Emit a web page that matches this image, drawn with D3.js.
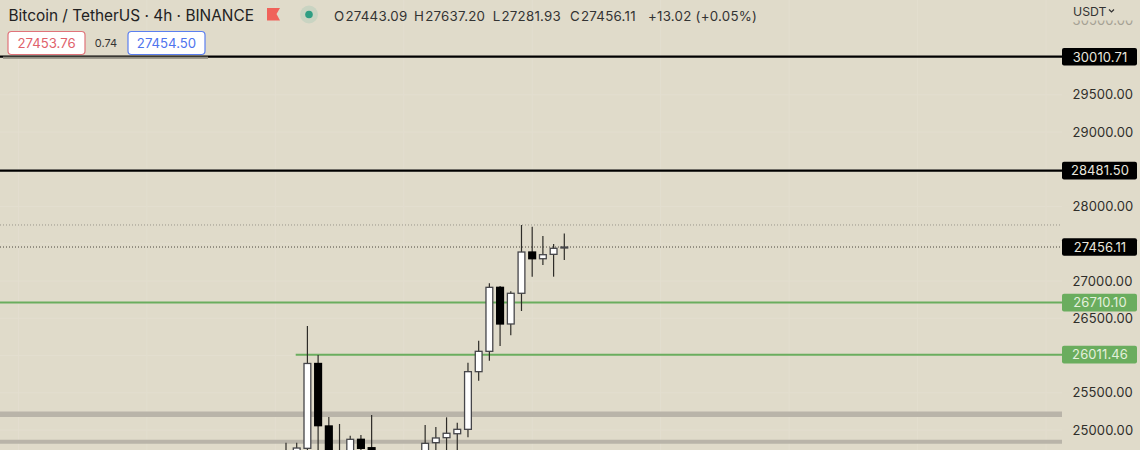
<!DOCTYPE html>
<html><head><meta charset="utf-8">
<script src="https://cdn.jsdelivr.net/npm/d3@7"></script>
<style>
html,body{margin:0;padding:0;background:#e0dbca;overflow:hidden}
svg{display:block}
text{font-family:Inter,"Noto Sans",sans-serif}
</style></head><body>
<svg id="c" width="1140" height="450"></svg>
<script>
// index of each 4h bar (0 = last bar), oldest first
const barIndex = [26,25,24,23,22,21,20,19,18,17,16,15,14,13,12,11,10,9,8,7,6,5,4,3,2,1,0];
const opens  = [24640,24600,24754,25893,25054,24660,24600,24875,24762,24600,24560,24620,24600,24640,24830,24897,24950,25009,25783,26056,26915,26423,26835,27389,27299,27358,27443];
const highs  = [24830,24830,26396,26007,25175,25081,24924,24933,25201,24660,24640,24660,24650,25067,25040,25170,25098,25903,26199,26969,26933,26862,27752,27729,27604,27497,27637];
const lows   = [24400,24450,24500,24600,24500,24500,24500,24600,24500,24500,24480,24500,24500,24500,24600,24600,24650,24902,25662,25930,26128,26271,26597,27058,27215,27058,27282];
const closes = [24560,24758,25893,25058,24680,24620,24875,24754,24650,24560,24620,24600,24640,24821,24893,24956,25009,25783,26056,26915,26423,26835,27389,27299,27353,27439,27456];
const axisTicks = [30500,29500,29000,28000,27000,26500,25500,25000];
const gridPrices = [30000,29500,29000,28500,28000,27500,27000,26500,26000,25500,25000];
const gridBars = [51,39,27,15,3,-9,-21,-33,-45];
const levelPrices = [30010.71,28481.50,26710.10,26011.46];
const levelLabels = ["30010.71","28481.50","26710.10","26011.46"];
const levelColors = ["#000000","#000000","#6aad5e","#6aad5e"];
const levelStartBars = [null,null,null,25];
const bandPrices = [25211,24843];
const bandWidths = [5.5,4];
const highLine = 27752;
const lastPrice = 27456.11;
const lastLabel = "27456.11";
const titleText = "Bitcoin / TetherUS · 4h · BINANCE";
const ohlcText = [["O","27443.09"],["H","27637.20"],["L","27281.93"],["C","27456.11"]];
const changeText = "+13.02 (+0.05%)";
const bidText="27453.76", spreadText="0.74", askText="27454.50";

const W=1140,H=450,plotR=1062;
const svg=d3.select("#c");
const y=d3.scaleLinear().domain([25000,30000]).range([430,57.5]);
const x=d3.scaleLinear().domain([0,26]).range([564.3,286]);

const grid=svg.append("g").attr("stroke","#e3decf").attr("stroke-width",1);
grid.selectAll("line.h").data(gridPrices).join("line").attr("class","h")
 .attr("x1",0).attr("x2",plotR).attr("y1",d=>y(d)).attr("y2",d=>y(d));
grid.selectAll("line.v").data(gridBars).join("line").attr("class","v")
 .attr("x1",d=>x(d)).attr("x2",d=>x(d)).attr("y1",0).attr("y2",H);

svg.append("g").selectAll("line").data(bandPrices).join("line")
 .attr("x1",0).attr("x2",plotR).attr("y1",d=>y(d)).attr("y2",d=>y(d))
 .attr("stroke","#b9b4a9").attr("stroke-width",(d,i)=>bandWidths[i]);

svg.append("line").attr("x1",0).attr("x2",plotR).attr("y1",y(highLine)).attr("y2",y(highLine))
 .attr("stroke","#9a968a").attr("stroke-width",1).attr("stroke-dasharray","1 2");
svg.append("line").attr("x1",0).attr("x2",plotR).attr("y1",y(lastPrice)).attr("y2",y(lastPrice))
 .attr("stroke","#4a463e").attr("stroke-width",1).attr("stroke-dasharray","1 2");

svg.append("g").selectAll("line").data(levelPrices).join("line")
 .attr("x1",(d,i)=>levelStartBars[i]===null?0:x(levelStartBars[i])-1).attr("x2",plotR).attr("y1",d=>y(d)).attr("y2",d=>y(d))
 .attr("stroke",(d,i)=>levelColors[i]).attr("stroke-width",(d,i)=>i<2?2.2:2);

const bars=barIndex.map((k,i)=>({k,o:opens[i],h:highs[i],l:lows[i],c:closes[i]}));
const g=svg.append("g").selectAll("g").data(bars).join("g");
g.append("line").attr("x1",d=>x(d.k)).attr("x2",d=>x(d.k)).attr("y1",d=>y(d.h)).attr("y2",d=>y(d.l))
 .attr("stroke","#2e2c28").attr("stroke-width",1.2);
g.append("rect").attr("x",d=>x(d.k)-3.4).attr("width",6.8)
 .attr("y",d=>y(Math.max(d.o,d.c))).attr("height",d=>Math.max(0.6,Math.abs(y(d.o)-y(d.c))))
 .attr("fill",d=>d.c>=d.o?"#ffffff":"#000000")
 .attr("stroke",d=>d.c>=d.o?"#46464a":"#000000").attr("stroke-width",1.3);

// price axis
const axisG=svg.append("g").attr("transform",`translate(${plotR},0)`)
 .call(d3.axisRight(y).tickValues(axisTicks).tickSize(0).tickPadding(10.5).tickFormat(d3.format(".2f")));
axisG.select(".domain").remove();
axisG.selectAll("text").attr("font-size",13).attr("fill","#2f2e2a").attr("letter-spacing",0.1).attr("font-family","Inter,sans-serif");
axisG.selectAll("text").filter(d=>d===30500).attr("fill","#a5a194");
svg.append("rect").attr("x",1064).attr("y",0).attr("width",76).attr("height",20.5).attr("fill","#e0dbca");

function tag(price,label,color){
 const yy=y(price);
 svg.append("rect").attr("x",1062).attr("y",yy-8.8).attr("width",75).attr("height",17.6).attr("rx",2).attr("fill",color);
 svg.append("text").attr("x",1100).attr("y",yy+0.3).attr("dy","0.35em").attr("text-anchor","middle")
  .attr("font-size",13).attr("letter-spacing",0.1).attr("fill",color==="#000000"?"#e8e6de":"#e4f0dc").text(label);
}
levelPrices.forEach((p,i)=>tag(p,levelLabels[i],levelColors[i]));
tag(lastPrice,lastLabel,"#000000");

// legend
svg.append("rect").attr("x",3).attr("y",56.6).attr("width",205).attr("height",2.2).attr("fill","#8f8c80");
svg.append("text").attr("x",8.5).attr("y",20.5).attr("font-size",15.4).attr("fill","#222").text(titleText);
svg.append("path").attr("d","M267 8H280L276.5 14L280 20.5H267Z").attr("fill","#f0625a");
svg.append("circle").attr("cx",309).attr("cy",14.5).attr("r",9).attr("fill","#c9d4c2");
svg.append("circle").attr("cx",309).attr("cy",14.5).attr("r",3.8).attr("fill","#2e9e83");

const ohlcX=[334,414,492.7,570];
ohlcText.forEach((d,i)=>{
 const t=svg.append("text").attr("x",ohlcX[i]).attr("y",20.5).attr("font-size",13.3).attr("letter-spacing",0.25).attr("fill","#333");
 t.append("tspan").text(d[0]); t.append("tspan").attr("dx",1).text(d[1]);
});
svg.append("text").attr("x",648).attr("y",20.5).attr("font-size",13.3).attr("letter-spacing",0.25).attr("fill","#333").text(changeText);

svg.append("rect").attr("x",8).attr("y",31.5).attr("width",77).attr("height",23).attr("rx",3.5).attr("fill","#fff").attr("stroke","#e0737a").attr("stroke-width",1.2);
svg.append("text").attr("x",46.5).attr("y",43.5).attr("dy","0.35em").attr("text-anchor","middle").attr("font-size",13.2).attr("fill","#e0616a").text(bidText);
svg.append("text").attr("x",106).attr("y",43.5).attr("dy","0.35em").attr("text-anchor","middle").attr("font-size",11).attr("fill","#333").text(spreadText);
svg.append("rect").attr("x",128).attr("y",31.5).attr("width",77).attr("height",23).attr("rx",3.5).attr("fill","#fff").attr("stroke","#5b7ff0").attr("stroke-width",1.2);
svg.append("text").attr("x",166.5).attr("y",43.5).attr("dy","0.35em").attr("text-anchor","middle").attr("font-size",13.2).attr("fill","#4f74ee").text(askText);

svg.append("text").attr("x",1073).attr("y",16).attr("font-size",12.3).attr("fill","#333").text("USDT");
svg.append("path").attr("d","M1109 9.5L1111.5 12L1114 9.5").attr("fill","none").attr("stroke","#333").attr("stroke-width",1.2);
</script>
</body></html>
